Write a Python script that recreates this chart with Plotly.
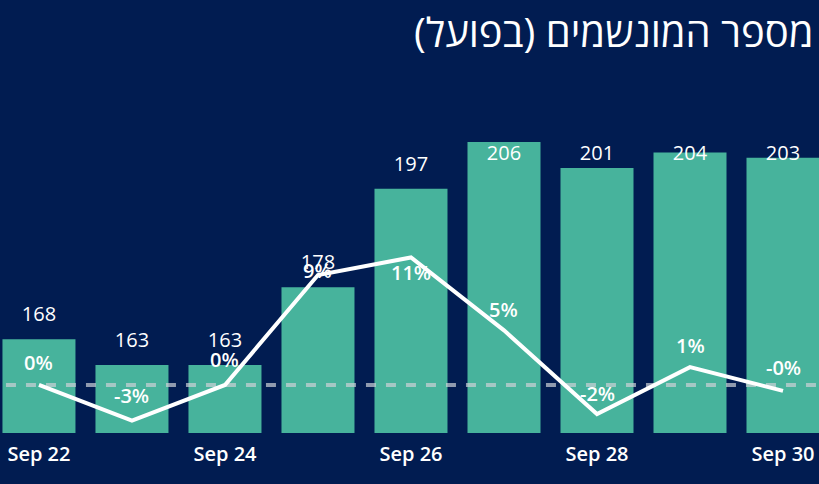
import plotly.graph_objects as go

# ---- data ----
dates = ["Sep 22", "Sep 23", "Sep 24", "Sep 25", "Sep 26", "Sep 27", "Sep 28", "Sep 29", "Sep 30"]
ventilated = [168, 163, 163, 178, 197, 206, 201, 204, 203]
pct_change = [0.0, -2.98, 0.0, 9.2, 10.67, 4.57, -2.43, 1.49, -0.49]
pct_labels = ["0%", "-3%", "0%", "9%", "11%", "5%", "-2%", "1%", "-0%"]
tick_idx = [0, 2, 4, 6, 8]
tick_text = ["Sep 22", "Sep 24", "Sep 26", "Sep 28", "Sep 30"]
title_text = "מספר המונשמים (בפועל)"

# ---- styling ----
BG = "#011c51"
BAR = "#47b39c"
FONT = "Open Sans, DejaVu Sans, sans-serif"
pct_label_shift = [22, 25, 25, 5, -15, 21, 21, 22, 23]  # px above point

x = list(range(len(dates)))
y1_range = [149.9, 219.9]
y2_range = [-4.02, 26.36]
label_cap = 203.6

fig = go.Figure()
fig.add_trace(go.Bar(x=x, y=ventilated, marker=dict(color=BAR, line=dict(width=0)),
                     yaxis="y", hoverinfo="skip"))
fig.add_trace(go.Scatter(x=x, y=[min(v + 4.43, label_cap) for v in ventilated],
                         mode="text", text=[str(v) for v in ventilated],
                         textfont=dict(color="white", size=20, family=FONT),
                         yaxis="y", hoverinfo="skip"))
fig.add_trace(go.Scatter(x=[-1, len(dates)], y=[0, 0], mode="lines",
                         line=dict(color="rgba(205,210,215,0.7)", width=4, dash="10px,10px"),
                         yaxis="y2", hoverinfo="skip"))
fig.add_trace(go.Scatter(x=x, y=pct_change, mode="lines",
                         line=dict(color="white", width=4),
                         yaxis="y2", hoverinfo="skip"))

for i, (v, t) in enumerate(zip(pct_change, pct_labels)):
    fig.add_annotation(x=i, y=v, yref="y2", xref="x", text=t, showarrow=False,
                       yshift=pct_label_shift[i],
                       font=dict(color="white", size=20, family=FONT, weight=600))

fig.add_annotation(text=title_text, xref="paper", yref="paper", x=1.0, y=1.0,
                   xanchor="right", yanchor="middle", xshift=-3, yshift=39, showarrow=False,
                   font=dict(color="white", size=40, family=FONT))

fig.update_layout(
    width=819, height=484,
    paper_bgcolor=BG, plot_bgcolor=BG,
    margin=dict(l=0, r=0, t=70, b=51),
    showlegend=False,
    bargap=0.215,
    xaxis=dict(range=[-0.419, 8.387], tickvals=tick_idx, ticktext=tick_text,
               showgrid=False, zeroline=False, showline=False, ticks="",
               ticklabelstandoff=7,
               tickfont=dict(color="white", size=20, family=FONT, weight=600)),
    yaxis=dict(range=y1_range, visible=False, showgrid=False),
    yaxis2=dict(range=y2_range, overlaying="y", visible=False, showgrid=False),
)

fig.write_html("out.html", config={"displayModeBar": False},
               post_script="document.body.style.margin='0';document.body.style.background='%s';" % BG)
